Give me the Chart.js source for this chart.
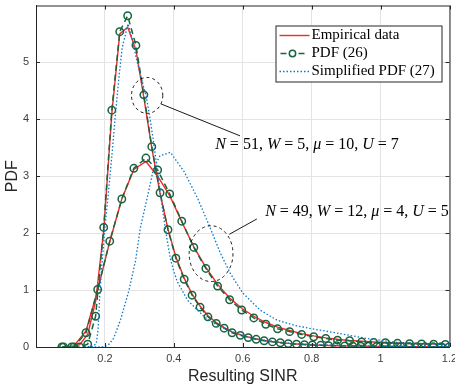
<!DOCTYPE html>
<html>
<head>
<meta charset="utf-8">
<script src="https://cdn.jsdelivr.net/npm/chart.js@4.4.0/dist/chart.umd.min.js"></script>
<style>
html, body { margin: 0; padding: 0; background: #fff; }
</style>
</head>
<body>
<canvas id="sinrChart" width="455" height="391"></canvas>
<script>
// case A: N=51, W=5, mu=10, U=7  (tall narrow peak)
const xA = [0.08, 0.1033, 0.1266, 0.15, 0.173, 0.1965, 0.22, 0.243, 0.266, 0.29, 0.313, 0.336, 0.36, 0.383, 0.406, 0.43, 0.453, 0.476, 0.499, 0.523, 0.546, 0.569, 0.593, 0.616, 0.639, 0.662, 0.686, 0.709, 0.732, 0.756, 0.779, 0.802, 0.826, 0.849, 0.872, 0.896, 0.919, 0.942, 0.966, 0.989, 1.012, 1.036, 1.059, 1.082, 1.106, 1.129, 1.152, 1.176, 1.199];
const pdfA = [0, 0, 0, 0.05, 0.54, 2.10, 4.16, 5.54, 5.82, 5.30, 4.43, 3.52, 2.71, 2.06, 1.56, 1.19, 0.91, 0.70, 0.53, 0.415, 0.33, 0.25, 0.205, 0.165, 0.135, 0.11, 0.09, 0.075, 0.06, 0.05, 0.042, 0.035, 0.03, 0.025, 0.022, 0.019, 0.016, 0.014, 0.012, 0.01, 0.009, 0.008, 0.007, 0.006, 0.005, 0.005, 0.004, 0.004, 0.003];
const empA = [0, 0, 0.04, 0.22, 0.8, 2.05, 4.1, 5.5, 5.62, 5.22, 4.38, 3.5, 2.7, 2.07, 1.58, 1.21, 0.93, 0.72, 0.55, 0.43, 0.34, 0.265, 0.215, 0.175, 0.14, 0.115, 0.095, 0.078, 0.064, 0.053, 0.045, 0.038, 0.032, 0.027, 0.023, 0.02, 0.017, 0.015, 0.013, 0.011, 0.01, 0.009, 0.008, 0.007, 0.006, 0.005, 0.005, 0.004, 0.004];
const xSimpA = [0.15, 0.165, 0.175, 0.18, 0.185, 0.19, 0.2, 0.21, 0.22, 0.23, 0.24, 0.25, 0.267, 0.28, 0.29, 0.3, 0.31, 0.32, 0.33, 0.34, 0.35, 0.36, 0.37, 0.38, 0.39, 0.4, 0.41, 0.44, 0.49, 0.53, 0.56, 0.6, 0.65, 0.7, 0.75, 0.8, 0.9, 1.0, 1.1, 1.2];
const simpA = [0, 0.01, 0.06, 0.3, 0.9, 1.35, 2.1, 2.7, 3.35, 4.05, 4.7, 5.25, 5.68, 5.4, 5.1, 4.85, 4.62, 4.4, 4.05, 3.65, 3.2, 2.75, 2.3, 1.9, 1.55, 1.33, 1.15, 0.82, 0.52, 0.37, 0.29, 0.2, 0.13, 0.09, 0.06, 0.045, 0.025, 0.015, 0.01, 0.006];

// case B: N=49, W=12, mu=4, U=5  (lower, broader peak)
const xB = [0.075, 0.110, 0.145, 0.179, 0.214, 0.249, 0.284, 0.319, 0.353, 0.388, 0.423, 0.458, 0.493, 0.527, 0.562, 0.597, 0.632, 0.667, 0.701, 0.736, 0.771, 0.806, 0.841, 0.875, 0.910, 0.945, 0.980, 1.014, 1.049, 1.084, 1.119, 1.154, 1.188];
const pdfB = [0, 0, 0.25, 1.01, 1.86, 2.6, 3.14, 3.32, 3.11, 2.69, 2.21, 1.75, 1.38, 1.07, 0.83, 0.65, 0.51, 0.40, 0.32, 0.27, 0.22, 0.18, 0.15, 0.12, 0.11, 0.09, 0.08, 0.075, 0.065, 0.06, 0.055, 0.05, 0.045];
const empB = [0, 0.02, 0.28, 1.0, 1.85, 2.6, 3.12, 3.26, 3.0, 2.66, 2.2, 1.76, 1.4, 1.1, 0.86, 0.68, 0.54, 0.43, 0.35, 0.29, 0.235, 0.195, 0.16, 0.135, 0.115, 0.1, 0.088, 0.078, 0.07, 0.062, 0.056, 0.05, 0.046];
const xSimpB = [0.14, 0.19, 0.2, 0.212, 0.225, 0.245, 0.27, 0.289, 0.303, 0.322, 0.342, 0.36, 0.39, 0.43, 0.47, 0.505, 0.535, 0.565, 0.6, 0.65, 0.7, 0.75, 0.8, 0.86, 0.96, 1.05, 1.2];
const simpB = [0, 0, 0.01, 0.05, 0.15, 0.47, 1.0, 1.52, 2.1, 2.6, 3.16, 3.36, 3.42, 3.08, 2.6, 2.1, 1.65, 1.28, 0.95, 0.65, 0.47, 0.38, 0.32, 0.26, 0.15, 0.08, 0.04];

const xTicks = [0.2, 0.4, 0.6, 0.8, 1, 1.2];
const xTickLabels = ['0.2', '0.4', '0.6', '0.8', '1', '1.2'];
const yTicks = [0, 1, 2, 3, 4, 5];
const yTickLabels = ['0', '1', '2', '3', '4', '5'];

const seriesNames = ['Empirical data', 'PDF (26)', 'Simplified PDF (27)'];
const caseNotes = ['N = 51, W = 5, μ = 10, U = 7', 'N = 49, W = 12, μ = 4, U = 5'];

const RED = 'rgb(245,40,40)';
const GREEN = 'rgb(24,100,62)';
const BLUE = 'rgb(10,120,200)';
const AXIS = '#262626';
const SERIF = '"Liberation Serif", "Times New Roman", serif';
const SANS = '"Liberation Sans", Arial, Helvetica, sans-serif';

const pts = (xs, ys) => xs.map((x, i) => ({ x: x, y: ys[i] }));

const redStyle = { borderColor: RED, borderWidth: 1.4, pointRadius: 0, order: 2 };
const greenStyle = { borderColor: GREEN, borderWidth: 1.5, borderDash: [6, 4], pointRadius: 3.7, pointBorderWidth: 1.5, pointBorderColor: GREEN, pointBackgroundColor: 'rgba(0,0,0,0)', order: 1 };
const blueStyle = { borderColor: BLUE, borderWidth: 1.3, borderDash: [1.5, 2], pointRadius: 0, order: 0 };

const datasets = [
    Object.assign({ label: seriesNames[0], data: pts(xA, empA) }, redStyle),
    Object.assign({ label: seriesNames[1], data: pts(xA, pdfA) }, greenStyle),
    Object.assign({ label: seriesNames[2], data: pts(xSimpA, simpA) }, blueStyle),
    Object.assign({ label: seriesNames[0], data: pts(xB, empB) }, redStyle),
    Object.assign({ label: seriesNames[1], data: pts(xB, pdfB) }, greenStyle),
    Object.assign({ label: seriesNames[2], data: pts(xSimpB, simpB) }, blueStyle)
];

// annotation circles / leaders / texts, in data units
const notes = [
    { cx: 0.3225, cy: 4.42, rx: 0.0454, ry: 0.315, line: [0.363, 4.27, 0.592, 3.71], tx: 0.52, ty: 3.555, text: caseNotes[0] },
    { cx: 0.508, cy: 1.64, rx: 0.0636, ry: 0.49, line: [0.561, 1.98, 0.641, 2.25], tx: 0.665, ty: 2.37, text: caseNotes[1] }
];

function drawMath(ctx, str, x, y, size) {
    // letters in italic, numbers and symbols upright, like LaTeX math
    const parts = str.match(/[A-Za-zμ]+|[^A-Za-zμ]+/g);
    let cx = x;
    parts.forEach(p => {
        const it = /[A-Za-zμ]/.test(p);
        ctx.font = (it ? 'italic ' : '') + size + 'px ' + SERIF;
        ctx.fillText(p, cx, y);
        cx += ctx.measureText(p).width;
    });
}

const boxPlugin = {
    id: 'matlabBox',
    afterDraw(chart) {
        const { ctx, chartArea: a, scales: { x, y } } = chart;
        ctx.save();
        // frame
        ctx.strokeStyle = AXIS;
        ctx.lineWidth = 1;
        ctx.beginPath();
        ctx.moveTo(a.left, a.top + 0.5); ctx.lineTo(a.right + 0.5, a.top + 0.5); ctx.lineTo(a.right + 0.5, a.bottom);
        ctx.stroke();
        // inward ticks
        ctx.beginPath();
        xTicks.forEach(v => {
            const px = Math.round(x.getPixelForValue(v)) + 0.5;
            ctx.moveTo(px, a.bottom); ctx.lineTo(px, a.bottom - 4);
            ctx.moveTo(px, a.top); ctx.lineTo(px, a.top + 4);
        });
        yTicks.forEach(v => {
            const py = Math.round(y.getPixelForValue(v)) + 0.5;
            ctx.moveTo(a.left, py); ctx.lineTo(a.left + 4, py);
            ctx.moveTo(a.right, py); ctx.lineTo(a.right - 4, py);
        });
        ctx.stroke();

        // annotations
        notes.forEach(n => {
            const cx = x.getPixelForValue(n.cx), cy = y.getPixelForValue(n.cy);
            const rx = x.getPixelForValue(n.cx + n.rx) - cx, ry = cy - y.getPixelForValue(n.cy + n.ry);
            ctx.strokeStyle = '#000';
            ctx.lineWidth = 0.9;
            ctx.setLineDash([3, 3]);
            ctx.beginPath();
            ctx.ellipse(cx, cy, rx, ry, 0, 0, Math.PI * 2);
            ctx.stroke();
            ctx.setLineDash([]);
            ctx.beginPath();
            ctx.moveTo(x.getPixelForValue(n.line[0]), y.getPixelForValue(n.line[1]));
            ctx.lineTo(x.getPixelForValue(n.line[2]), y.getPixelForValue(n.line[3]));
            ctx.stroke();
            ctx.fillStyle = '#000';
            ctx.textBaseline = 'middle';
            drawMath(ctx, n.text, x.getPixelForValue(n.tx), y.getPixelForValue(n.ty), 16);
        });

        // legend box (top right, inside axes)
        const lx = a.right - 174, ly = a.top + 20, lw = 166, lh = 56;
        ctx.fillStyle = '#fff';
        ctx.fillRect(lx, ly, lw, lh);
        ctx.strokeStyle = AXIS;
        ctx.lineWidth = 1;
        ctx.strokeRect(lx + 0.5, ly + 0.5, lw, lh);
        const styles = [datasets[0], datasets[1], datasets[2]];
        styles.forEach((d, i) => {
            const yy = ly + 10 + i * 18;
            ctx.strokeStyle = d.borderColor;
            ctx.lineWidth = d.borderWidth;
            ctx.setLineDash(d.borderDash || []);
            ctx.beginPath();
            if (d.pointRadius) {
                ctx.moveTo(lx + 5, yy); ctx.lineTo(lx + 11, yy);
                ctx.moveTo(lx + 23, yy); ctx.lineTo(lx + 30, yy);
            } else {
                ctx.moveTo(lx + 4, yy); ctx.lineTo(lx + 34, yy);
            }
            ctx.stroke();
            ctx.setLineDash([]);
            if (d.pointRadius) {
                ctx.lineWidth = d.pointBorderWidth;
                ctx.beginPath();
                ctx.arc(lx + 17, yy, 3.2, 0, Math.PI * 2);
                ctx.stroke();
            }
            ctx.fillStyle = '#000';
            ctx.font = '15px ' + SERIF;
            ctx.textBaseline = 'middle';
            ctx.fillText(d.label, lx + 36, yy);
        });
        ctx.restore();
    }
};

new Chart(document.getElementById('sinrChart').getContext('2d'), {
    type: 'line',
    data: { datasets: datasets },
    options: {
        responsive: false,
        animation: false,
        layout: { padding: { top: 5, right: 5, left: 0, bottom: 0 } },
        elements: { line: { tension: 0, fill: false } },
        plugins: { legend: { display: false }, tooltip: { enabled: false } },
        scales: {
            x: {
                type: 'linear', min: 0, max: 1.2,
                afterBuildTicks: s => { s.ticks = xTicks.map(v => ({ value: v })); },
                afterFit: s => { s.height = 44; s.paddingLeft = 0; s.paddingRight = 0; },
                ticks: {
                    callback: v => xTickLabels[xTicks.indexOf(v)],
                    color: '#404040', font: { family: SANS, size: 11 },
                    padding: 5, maxRotation: 0, autoSkip: false
                },
                grid: { color: '#e4e4e4', drawTicks: false },
                border: { color: AXIS, width: 1 },
                title: { display: true, text: 'Resulting SINR', color: '#262626', font: { family: SANS, size: 16 }, padding: { top: 0, bottom: 5 } }
            },
            y: {
                type: 'linear', min: 0, max: 6,
                afterBuildTicks: s => { s.ticks = yTicks.map(v => ({ value: v })); },
                afterFit: s => { s.width = 36; s.paddingTop = 0; s.paddingBottom = 0; },
                ticks: {
                    callback: v => yTickLabels[yTicks.indexOf(v)],
                    color: '#404040', font: { family: SANS, size: 11 },
                    padding: 7, autoSkip: false
                },
                grid: { color: '#e4e4e4', drawTicks: false },
                border: { color: AXIS, width: 1 },
                title: { display: true, text: 'PDF', color: '#262626', font: { family: SANS, size: 16 }, padding: { top: 3, bottom: 0 } }
            }
        }
    },
    plugins: [boxPlugin]
});
</script>
</body>
</html>
